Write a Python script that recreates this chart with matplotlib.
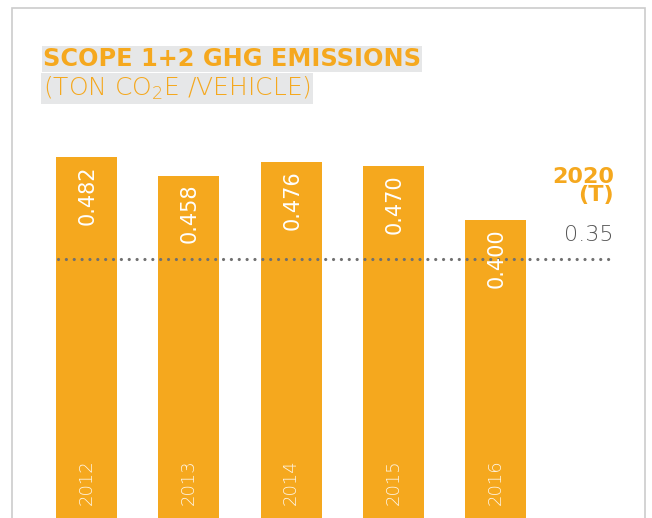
import matplotlib.pyplot as plt
from matplotlib.patches import Rectangle

# chart data
years = ['2012', '2013', '2014', '2015', '2016']
values = [0.482, 0.458, 0.476, 0.470, 0.400]
target = 0.35
target_year = '2020'
target_tag = '(T)'
title = 'SCOPE 1+2 GHG EMISSIONS'
subtitle = '(TON CO$_2$E /VEHICLE)'

ORANGE = '#F5A81E'
W, H = 652, 518

plt.rcParams['mathtext.default'] = 'regular'
plt.rcParams['font.family'] = 'DejaVu Sans'

fig = plt.figure(figsize=(W / 100, H / 100), dpi=100)
ax = fig.add_axes([0, 0, 1, 1])
ax.axis('off')

x = list(range(len(years)))
ax.bar(x, values, width=0.596, color=ORANGE, zorder=2)
ax.set_xlim(-0.8456, 5.528)
ax.set_ylim(0.0132, 0.686)

# values inside bars
for i, v in zip(x, values):
    ax.annotate(f'{v:.3f}', xy=(i, v), xytext=(0.8, -6), textcoords='offset points',
                rotation=90, ha='center', va='top', color='white',
                fontsize=15, zorder=4)

# year labels at the foot of the bars
for i, yr in zip(x, years):
    ax.text(i, 13 / H, yr, transform=ax.get_xaxis_transform(), rotation=90,
            ha='center', va='bottom', color='white', alpha=0.88,
            fontsize=13, weight='light', zorder=4)

# target line
ax.axhline(target, xmin=58 / W, xmax=612 / W, color='#707070', lw=2.3,
           linestyle=(0, (0.01, 2.45)), dash_capstyle='round', zorder=3)
tx = 614 / W
ax.annotate(target_year, xy=(tx, target), xycoords=('axes fraction', 'data'),
            xytext=(0, 54.7), textcoords='offset points', ha='right', va='baseline',
            color=ORANGE, fontsize=16, weight='bold')
ax.annotate(target_tag, xy=(tx, target), xycoords=('axes fraction', 'data'),
            xytext=(0, 41.5), textcoords='offset points', ha='right', va='baseline',
            color=ORANGE, fontsize=16, weight='bold')
ax.annotate(f'{target:.2f}', xy=(tx, target), xycoords=('axes fraction', 'data'),
            xytext=(0, 13), textcoords='offset points', ha='right', va='baseline',
            color='#555555', fontsize=16, weight='light')

# title with grey highlight
fig.text(43 / W, 1 - 66 / H, title, color=ORANGE, fontsize=17.3, weight='bold',
         va='baseline', bbox=dict(facecolor='#e6e7e8', edgecolor='none', pad=1))
fig.text(43 / W, 1 - 96 / H, subtitle, color=ORANGE, fontsize=18, weight='light',
         va='baseline', bbox=dict(facecolor='#e6e7e8', edgecolor='none', pad=1))

# panel frame
fig.patches.append(Rectangle((12 / W, -0.1), (645 - 12) / W, 1.1 - 8 / H,
                             transform=fig.transFigure, fill=False,
                             edgecolor='#cccccc', lw=1.2))

fig.savefig('out.png', dpi=100)
